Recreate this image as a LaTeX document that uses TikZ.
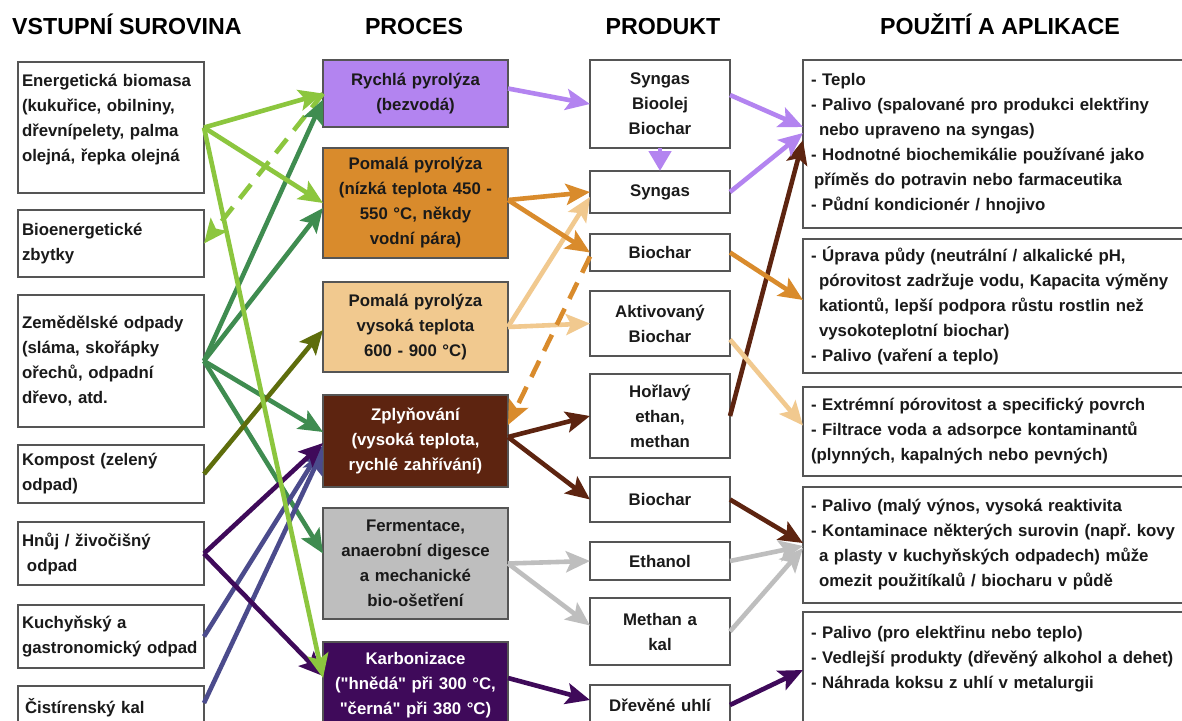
\documentclass[tikz,border=0pt]{standalone}
\usepackage{fontspec}
\setmainfont{Liberation Sans}[Ligatures=TeXOff]
\usepackage{tikz}
\usetikzlibrary{arrows.meta,positioning}
\definecolor{bmink}{HTML}{1A1A1A}
\definecolor{bmedge}{HTML}{555555}
\definecolor{bmlav}{HTML}{B384F0}
\definecolor{bmorange}{HTML}{D98B2C}
\definecolor{bmtan}{HTML}{F1C98F}
\definecolor{bmbrown}{HTML}{5D2410}
\definecolor{bmgray}{HTML}{BEBEBE}
\definecolor{bmplum}{HTML}{3F0A5A}
\definecolor{bmlime}{HTML}{8CC63E}
\definecolor{bmgreen}{HTML}{3F8C50}
\definecolor{bmolive}{HTML}{5E6D0C}
\definecolor{bmslate}{HTML}{4B4B8C}
\newcommand\bmtext{\fontsize{16.8}{25}\selectfont\bfseries}
\newcommand\bmhead{\fontsize{23.2}{27}\selectfont\bfseries}
\newcommand\bmind{\hspace*{8pt}}

\begin{document}
\begin{tikzpicture}[
  x=1pt,y=-1pt,
  font=\bmtext,text=bmink,
  src/.style={draw=bmedge,line width=1.6pt,fill=white,inner xsep=4pt,inner ysep=2pt,
              outer sep=0pt,text width=178pt,align=left},
  proc/.style={draw=bmedge,line width=1.6pt,inner xsep=5pt,inner ysep=2pt,
              outer sep=0pt,text width=175pt,align=center},
  prod/.style={draw=bmedge,line width=1.6pt,fill=white,inner xsep=5pt,inner ysep=2pt,
              outer sep=0pt,text width=130pt,align=center},
  app/.style={draw=bmedge,line width=1.6pt,fill=white,inner xsep=8pt,inner ysep=2pt,
              outer sep=0pt,text width=368pt,align=left},
  head/.style={font=\bmhead,text=black,inner sep=0pt},
  arr/.style={-{Stealth[length=24pt,width=21pt,inset=5pt]},line width=4.6pt},
  dsh/.style={arr,dash pattern=on 18pt off 11pt},
]
\fill[white] (0,0) rectangle (1182,720);
\useasboundingbox (0,0) rectangle (1182,720);

\node[head,anchor=base west] (h1) at (12,34) {VSTUPNÍ SUROVINA};
\node[head,anchor=base] (h2) at (414,34) {PROCES};
\node[head,anchor=base] (h3) at (663,34) {PRODUKT};
\node[head,anchor=base] (h4) at (1000,34) {POUŽITÍ A APLIKACE};

% vstupni suroviny
\node[src,minimum height=131pt,anchor=north west] (in1) at (18,62)
  {Energetická biomasa\\(kukuřice, obilniny,\\dřevnípelety, palma\\olejná, řepka olejná\\[-5pt]\mbox{}};
\node[src,minimum height=67pt,below=17pt of in1] (in2) {Bioenergetické\\zbytky};
\node[src,minimum height=132pt,below=18pt of in2] (in3)
  {Zemědělské odpady\\(sláma, skořápky\\ořechů, odpadní\\dřevo, atd.};
\node[src,minimum height=58pt,below=18pt of in3] (in4) {Kompost (zelený\\odpad)};
\node[src,minimum height=63pt,below=19pt of in4] (in5) {Hnůj / živočišný\\\hspace*{5pt}odpad};
\node[src,minimum height=63pt,below=20pt of in5] (in6) {Kuchyňský a\\gastronomický odpad};
\node[src,minimum height=44pt,below=18pt of in6] (in7) {\hspace*{3pt}Čistírenský kal};

% procesy
\node[proc,fill=bmlav,minimum height=67pt,anchor=north west] (pr1) at (323,60)
  {Rychlá pyrolýza\\(bezvodá)};
\node[proc,fill=bmorange,minimum height=110pt,below=21pt of pr1] (pr2)
  {Pomalá pyrolýza\\(nízká teplota 450 -\\550 °C, někdy\\vodní pára)};
\node[proc,fill=bmtan,minimum height=90pt,below=24pt of pr2] (pr3)
  {Pomalá pyrolýza\\vysoká teplota\\600 - 900 °C)};
\node[proc,fill=bmbrown,text=white,minimum height=92pt,below=23pt of pr3] (pr4)
  {Zplyňování\\(vysoká teplota,\\rychlé zahřívání)};
\node[proc,fill=bmgray,minimum height=111pt,below=21pt of pr4] (pr5)
  {Fermentace,\\anaerobní digesce\\a mechanické\\bio-ošetření};
\node[proc,fill=bmplum,text=white,minimum height=86pt,below=23pt of pr5] (pr6)
  {Karbonizace\\("hnědá" při 300 °C,\\"černá" při 380 °C)};

% produkty
\node[prod,minimum height=88pt,anchor=north west] (pd1) at (590,60) {Syngas\\Bioolej\\Biochar};
\node[prod,minimum height=42pt,below=23pt of pd1] (pd2) {Syngas};
\node[prod,minimum height=37pt,below=21pt of pd2] (pd3) {Biochar};
\node[prod,minimum height=65pt,below=20pt of pd3] (pd4) {Aktivovaný\\Biochar};
\node[prod,minimum height=84pt,below=18pt of pd4] (pd5) {Hořlavý\\ethan,\\methan};
\node[prod,minimum height=45pt,below=19pt of pd5] (pd6) {Biochar};
\node[prod,minimum height=38pt,below=20pt of pd6] (pd7) {Ethanol};
\node[prod,minimum height=67pt,below=18pt of pd7] (pd8) {Methan a\\kal};
\node[prod,minimum height=40pt,below=20pt of pd8] (pd9) {Dřevěné uhlí};

% pouziti a aplikace
\node[app,minimum height=168pt,anchor=north west] (us1) at (803,60)
  {- Teplo\\- Palivo (spalované pro produkci elektřiny\\\bmind nebo upraveno na syngas)\\
   - Hodnotné biochemikálie používané jako\\\hspace*{3pt}příměs do potravin nebo farmaceutika\\
   - Půdní kondicionér / hnojivo};
\node[app,minimum height=134pt,below=11pt of us1] (us2)
  {- Úprava půdy (neutrální / alkalické pH,\\\bmind pórovitost zadržuje vodu, Kapacita výměny\\
   \bmind kationtů, lepší podpora růstu rostlin než\\\bmind vysokoteplotní biochar)\\
   - Palivo (vaření a teplo)};
\node[app,minimum height=89pt,below=14pt of us2] (us3)
  {- Extrémní pórovitost a specifický povrch\\- Filtrace voda a adsorpce kontaminantů\\
   (plynných, kapalných nebo pevných)};
\node[app,minimum height=116pt,below=11pt of us3] (us4)
  {- Palivo (malý výnos, vysoká reaktivita\\- Kontaminace některých surovin (např.\ kovy\\
   \bmind a plasty v kuchyňských odpadech) může\\\bmind omezit použitíkalů / biocharu v půdě};
\node[app,minimum height=116pt,below=9pt of us4] (us5)
  {- Palivo (pro elektřinu nebo teplo)\\- Vedlejší produkty (dřevěný alkohol a dehet)\\
   - Náhrada koksu z uhlí v metalurgii\\\mbox{}};

% suroviny -> procesy
\draw[dsh,bmlime] (pr1.west) -- (in2.east);
\draw[arr,bmgreen] (in3.east) -- ([yshift=-6pt]pr1.west);
\draw[arr,bmgreen] (in3.east) -- ([yshift=-5pt]pr2.west);
\draw[arr,bmgreen] (in3.east) -- ([yshift=9pt]pr4.west);
\draw[arr,bmgreen] (in3.east) -- ([yshift=10pt]pr5.west);
\draw[arr,bmolive] (in4.east) -- ([yshift=-3pt]pr3.west);
\draw[arr,bmslate] (in6.east) -- ([yshift=-5pt]pr4.west);
\draw[arr,bmslate] ([yshift=5pt]in7.east) -- ([yshift=-9pt]pr4.west);
\draw[arr,bmplum] (in5.east) -- ([yshift=-2pt]pr4.west);
\draw[arr,bmplum] (in5.east) -- ([yshift=9pt]pr6.west);
\draw[arr,bmlime] (in1.east) -- (pr1.west);
\draw[arr,bmlime] (in1.east) -- (pr2.west);
\draw[arr,bmlime] (in1.east) -- ([yshift=7pt]pr6.west);

% procesy -> produkty
\draw[arr,bmlav] ([yshift=5pt]pr1.east) -- (pd1.west);
\draw[arr,bmlav,-{Triangle[length=20pt,width=22pt]}] (pd1.south) -- (pd2.north);
\draw[arr,bmtan] (pr3.east) -- ([yshift=-5pt]pd2.west);
\draw[arr,bmtan] (pr3.east) -- (pd4.west);
\draw[arr,bmorange] ([yshift=3pt]pr2.east) -- (pd2.west);
\draw[arr,bmorange] ([yshift=3pt]pr2.east) -- (pd3.west);
\draw[dsh,bmorange] ([yshift=-4pt]pd3.west) -- ([yshift=16pt]pr4.east);
\draw[arr,bmbrown] ([yshift=4pt]pr4.east) -- (pd5.west);
\draw[arr,bmbrown] ([yshift=4pt]pr4.east) -- (pd6.west);
\draw[arr,bmgray] (pr5.east) -- (pd7.west);
\draw[arr,bmgray] (pr5.east) -- ([yshift=6pt]pd8.west);
\draw[arr,bmplum] ([yshift=7pt]pr6.east) -- ([yshift=5pt]pd9.west);

% produkty -> pouziti
\draw[arr,bmbrown] (pd5.east) -- ([yshift=4pt]us1.west);
\draw[arr,bmlav] ([yshift=9pt]pd1.east) -- ([yshift=17pt]us1.west);
\draw[arr,bmlav] (pd2.east) -- ([yshift=11pt]us1.west);
\draw[arr,bmorange] (pd3.east) -- ([yshift=6pt]us2.west);
\draw[arr,bmtan] ([yshift=-16pt]pd4.east) -- ([yshift=6pt]us3.west);
\draw[arr,bmbrown] (pd6.east) -- ([yshift=2pt]us4.west);
\draw[arr,bmgray] (pd7.east) -- ([yshift=-1pt]us4.west);
\draw[arr,bmgray] (pd8.east) -- ([yshift=-3pt]us4.west);
\draw[arr,bmplum] (pd9.east) -- (us5.west);

\end{tikzpicture}
\end{document}
